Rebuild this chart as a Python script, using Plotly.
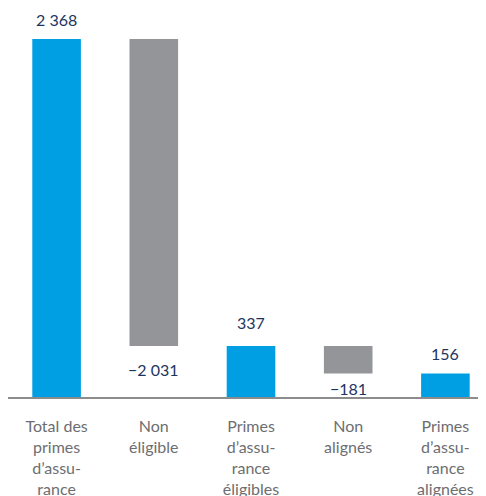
import plotly.graph_objects as go

categories = [
    "Total des<br>primes<br>d’assu-<br>rance",
    "Non<br>éligible",
    "Primes<br>d’assu-<br>rance<br>éligibles",
    "Non<br>alignés",
    "Primes<br>d’assu-<br>rance<br>alignées",
]
values = [2368, -2031, 337, -181, 156]
measures = ["total", "relative", "total", "relative", "total"]
value_labels = ["2 368", "−2 031", "337", "−181", "156"]

BLUE = "#009fe3"
GREY = "#939598"
NAVY = "#1d355e"

# running totals -> bar bases
bases = []
running = 0
for v, m in zip(values, measures):
    if m == "total":
        bases.append(0)
        running = v
    else:
        bases.append(running)
        running += v

colors = [BLUE if m == "total" else GREY for m in measures]

fig = go.Figure(go.Bar(
    x=categories,
    y=values,
    base=bases,
    width=0.5,
    marker=dict(color=colors, line=dict(width=0)),
    hoverinfo="skip",
    showlegend=False,
))

# value labels: above positive bars, below negative ones
label_shift = [8, -12, 12, -4, 8]
for cat, v, b, lab, dy in zip(categories, values, bases, value_labels, label_shift):
    end = b + v
    fig.add_annotation(
        x=cat, y=end, xref="x", yref="y",
        text=lab, showarrow=False,
        yanchor="bottom" if v > 0 else "top",
        yshift=dy,
        font=dict(size=16, color=NAVY, family="Lato"),
    )

fig.update_layout(
    width=486,
    height=496,
    margin=dict(l=0, r=0, t=0, b=107),
    plot_bgcolor="white",
    paper_bgcolor="white",
    font=dict(family="Lato"),
    xaxis=dict(
        showline=True, linecolor="#8c8c8c", linewidth=2,
        showgrid=False, ticks="", automargin=False,
        tickfont=dict(size=16, color="#6d6e71", family="Lato"),
        ticklabelstandoff=14,
    ),
    yaxis=dict(range=[0, 2573], visible=False, automargin=False),
)

fig.write_html("out.html")
